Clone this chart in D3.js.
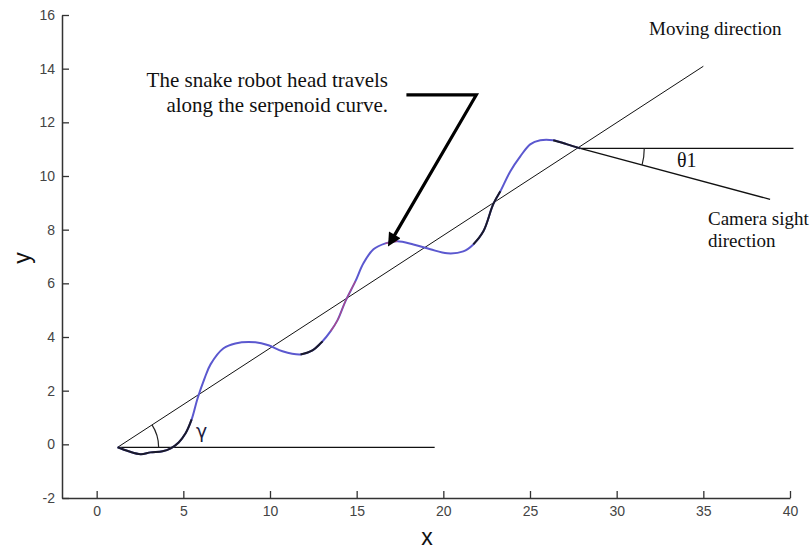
<!DOCTYPE html>
<html>
<head>
<meta charset="utf-8">
<script src="https://cdn.jsdelivr.net/npm/d3@7"></script>
<style>
  body { margin: 0; background: #fff; }
  svg { display: block; }
  .tick text { font-family: "Liberation Sans", Arial, sans-serif; font-size: 14px; fill: #444; }
  .note { font-family: "Liberation Serif", "Times New Roman", serif; fill: #111; }
</style>
</head>
<body>
<div id="chart"></div>
<script>
// serpenoid path of the snake robot head
var curveX = [1.21, 1.84, 2.54, 3.11, 3.80, 4.27, 4.73, 5.13, 5.48, 5.82, 6.22, 6.57, 7.32, 8.00, 9.16, 9.91, 10.72, 11.76, 12.45, 13.03, 13.49, 13.89, 14.35, 14.93, 15.39, 15.97, 16.66, 17.35, 18.27, 19.25, 20.23, 21.15, 21.73, 22.31, 22.88, 23.29, 23.86, 24.44, 25.01, 25.59, 26.34, 27.15, 27.90];
var curveY = [-0.11, -0.26, -0.37, -0.30, -0.26, -0.15, 0.07, 0.41, 0.93, 1.71, 2.45, 2.98, 3.58, 3.76, 3.80, 3.69, 3.47, 3.35, 3.50, 3.84, 4.21, 4.62, 5.33, 6.08, 6.75, 7.27, 7.49, 7.57, 7.45, 7.27, 7.12, 7.19, 7.45, 7.94, 8.95, 9.43, 10.17, 10.73, 11.18, 11.33, 11.33, 11.18, 11.03];
// index ranges of the curve drawn in black / red on top of the blue one
var blackParts = [[0, 8], [17, 19], [32, 35], [40, 42]];
var redParts = [[20, 23], [26, 27]];

// straight guide lines [x0, y0, x1, y1]
var movingLine = [1.21, -0.11, 35.0, 14.09];
var baseLine = [1.21, -0.11, 19.5, -0.11];
var headLine = [27.9, 11.03, 40.2, 11.03];
var cameraLine = [27.9, 11.03, 38.85, 9.13];
// arrow polyline, from the label to the curve
var arrowX = [17.87, 21.9, 17.12];
var arrowY = [13.02, 13.02, 7.72];

var xTicks = [0, 5, 10, 15, 20, 25, 30, 35, 40];
var yTicks = [-2, 0, 2, 4, 6, 8, 10, 12, 14, 16];

var width = 811, height = 552;

var svg = d3.select("#chart")
  .append("svg")
  .attr("width", width)
  .attr("height", height);

var x = d3.scaleLinear().domain([-2, 40]).range([62, 790]);
var y = d3.scaleLinear().domain([-2, 16]).range([498, 15]);

// axes, ticks pointing inward like matlab
svg.append("g")
  .attr("transform", "translate(0," + y(-2) + ")")
  .call(d3.axisBottom(x).tickValues(xTicks).tickFormat(String).tickSizeInner(-7).tickSizeOuter(0).tickPadding(8))
  .call(function (g) { g.select(".domain").attr("stroke", "#333").attr("stroke-width", 1.5); })
  .call(function (g) { g.selectAll(".tick line").attr("stroke", "#333").attr("stroke-width", 1.3); });

svg.append("g")
  .attr("transform", "translate(" + x(-2) + ",0)")
  .call(d3.axisLeft(y).tickValues(yTicks).tickFormat(String).tickSizeInner(-7).tickSizeOuter(0).tickPadding(7))
  .call(function (g) { g.select(".domain").attr("stroke", "#333").attr("stroke-width", 1.5); })
  .call(function (g) { g.selectAll(".tick line").attr("stroke", "#333").attr("stroke-width", 1.3); });

// axis labels
svg.append("text")
  .attr("x", 427).attr("y", 545)
  .attr("text-anchor", "middle")
  .style("font-family", "Liberation Sans, Arial, sans-serif")
  .style("font-size", "23px")
  .style("fill", "#111")
  .text("x");

svg.append("text")
  .attr("transform", "translate(30,258) rotate(-90)")
  .attr("text-anchor", "middle")
  .style("font-family", "Liberation Sans, Arial, sans-serif")
  .style("font-size", "23px")
  .style("fill", "#111")
  .text("y");

function seg(s, w, c) {
  svg.append("line")
    .attr("x1", x(s[0])).attr("y1", y(s[1]))
    .attr("x2", x(s[2])).attr("y2", y(s[3]))
    .attr("stroke", c || "#111")
    .attr("stroke-width", w);
}

seg(movingLine, 1);
seg(baseLine, 1.3);
seg(headLine, 1.3);
seg(cameraLine, 1.3);

// the serpenoid curve
var pts = curveX.map(function (d, i) { return [d, curveY[i]]; });
var line = d3.line()
  .x(function (d) { return x(d[0]); })
  .y(function (d) { return y(d[1]); })
  .curve(d3.curveCatmullRom);

svg.append("path")
  .datum(pts)
  .attr("d", line)
  .attr("fill", "none")
  .attr("stroke", "#5b58cf")
  .attr("stroke-width", 2);

redParts.forEach(function (r) {
  svg.append("path")
    .datum(pts.slice(r[0], r[1] + 1))
    .attr("d", line)
    .attr("fill", "none")
    .attr("stroke", "#d2406a")
    .attr("stroke-width", 1.2)
    .attr("opacity", 0.7);
});

blackParts.forEach(function (r) {
  svg.append("path")
    .datum(pts.slice(r[0], r[1] + 1))
    .attr("d", line)
    .attr("fill", "none")
    .attr("stroke", "#1a1a2a")
    .attr("stroke-width", 2);
});

// angle arcs
function angleArc(l1, l2, r) {
  var cx = x(l1[0]), cy = y(l1[1]);
  var a0 = Math.atan2(y(l1[3]) - cy, x(l1[2]) - cx);
  var a1 = Math.atan2(y(l2[3]) - cy, x(l2[2]) - cx);
  var p = d3.path();
  p.arc(cx, cy, r, a0, a1, a1 < a0);
  svg.append("path")
    .attr("d", p.toString())
    .attr("fill", "none")
    .attr("stroke", "#222")
    .attr("stroke-width", 1.2);
}
angleArc(movingLine, baseLine, 41);
angleArc(headLine, cameraLine, 64);

// annotation arrow
var ap = arrowX.map(function (d, i) { return [x(d), y(arrowY[i])]; });
svg.append("defs").append("marker")
  .attr("id", "head")
  .attr("viewBox", "0 0 10 10")
  .attr("refX", 2).attr("refY", 5)
  .attr("markerWidth", 5.2).attr("markerHeight", 4.2)
  .attr("orient", "auto")
  .append("path")
  .attr("d", "M0,0L10,5L0,10z")
  .attr("fill", "#000");

svg.append("path")
  .attr("d", d3.line()(ap))
  .attr("fill", "none")
  .attr("stroke", "#000")
  .attr("stroke-width", 3.2)
  .attr("marker-end", "url(#head)");

// text notes
function note(tx, ty, s, size, anchor) {
  svg.append("text")
    .attr("class", "note")
    .attr("x", tx).attr("y", ty)
    .attr("text-anchor", anchor || "start")
    .style("font-size", size + "px")
    .text(s);
}
note(388, 87, "The snake robot head travels", 21, "end");
note(388, 112, "along the serpenoid curve.", 21, "end");
note(649, 35, "Moving direction", 19);
note(708, 225, "Camera sight", 19);
note(708, 247, "direction", 19);
note(677, 167, "\u03b81", 20);

svg.append("text")
  .attr("x", 196).attr("y", 438)
  .style("font-family", "DejaVu Sans, sans-serif")
  .style("font-size", "19px")
  .style("fill", "#1c1c40")
  .text("\u03b3");
</script>
</body>
</html>
